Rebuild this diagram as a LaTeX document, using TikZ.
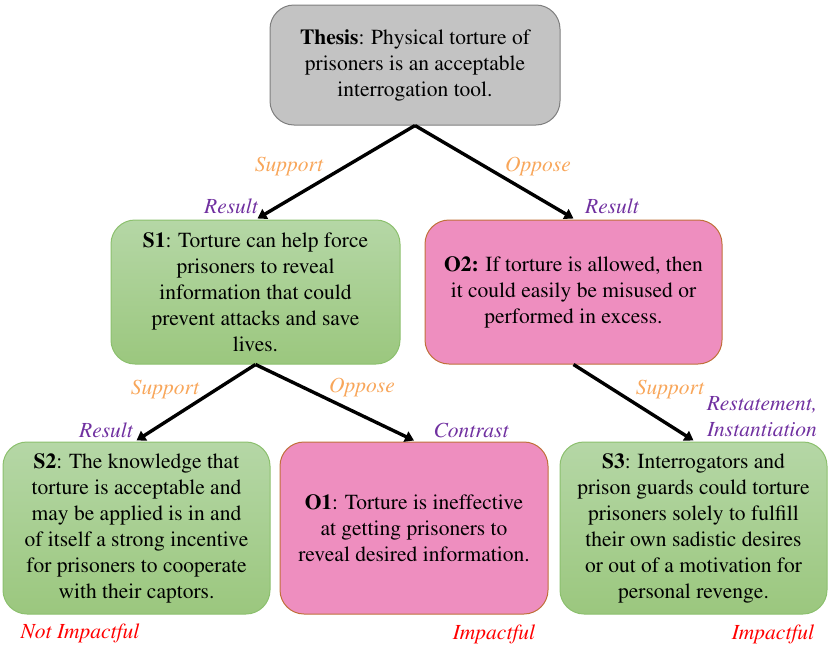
\documentclass[tikz,border=0pt]{standalone}
\usepackage[T1]{fontenc}
\renewcommand{\rmdefault}{ptm}
\usetikzlibrary{arrows.meta}
\definecolor{thfill}{HTML}{C3C3C3}
\definecolor{thdraw}{HTML}{7F7F7F}
\definecolor{gtop}{HTML}{B5D7A6}
\definecolor{gbot}{HTML}{9BC77E}
\definecolor{gdraw}{HTML}{8CC06E}
\definecolor{pfill}{HTML}{EE8EBF}
\definecolor{pdraw}{HTML}{C0703A}
\definecolor{relor}{HTML}{F8A65A}
\definecolor{relpu}{HTML}{7030A0}
\definecolor{impred}{HTML}{FF0000}
\tikzset{
  box/.style={rounded corners=24pt, line width=1pt, align=center, inner sep=0pt,
    font=\fontsize{21.5}{26}\selectfont},
  thesisbox/.style={box, fill=thfill, draw=thdraw},
  supbox/.style={box, top color=gtop, bottom color=gbot, draw=gdraw},
  oppbox/.style={box, fill=pfill, draw=pdraw},
  conn/.style={line width=3.4pt, -{Triangle[length=9pt,width=11pt]}},
  rel/.style={font=\fontsize{21.5}{25}\selectfont\itshape, text=relor, inner sep=0pt},
  dis/.style={font=\fontsize{21.5}{26}\selectfont\itshape, text=relpu, inner sep=0pt, align=center},
  imp/.style={font=\fontsize{21.5}{25}\selectfont\itshape, text=impred, inner sep=0pt},
}
\begin{document}
\begin{tikzpicture}[x=1pt,y=-1pt]
\useasboundingbox (0,0) rectangle (831,648);
\node[thesisbox, minimum width=290pt, minimum height=120pt] (T) at (415,65)
  {\textbf{Thesis}: Physical torture of\\prisoners is an acceptable\\interrogation tool.};
\node[supbox, minimum width=289pt, minimum height=144pt] (S1) at (255.5,292)
  {\textbf{S1}: Torture can help force\\prisoners to reveal\\information that could\\prevent attacks and save\\lives.};
\node[oppbox, minimum width=297pt, minimum height=144pt] (O2) at (573.5,292)
  {\textbf{O2:} If torture is allowed, then\\it could easily be misused or\\performed in excess.};
\node[supbox, minimum width=267pt, minimum height=172pt] (S2) at (136.5,528)
  {\textbf{S2}: The knowledge that\\torture is acceptable and\\may be applied is in and\\of itself a strong incentive\\for prisoners to cooperate\\with their captors.};
\node[oppbox, minimum width=268pt, minimum height=172pt] (O1) at (414,528)
  {\textbf{O1}: Torture is ineffective\\at getting prisoners to\\reveal desired information.};
\node[supbox, minimum width=267pt, minimum height=172pt] (S3) at (693.5,528)
  {\textbf{S3}: Interrogators and\\prison guards could torture\\prisoners solely to fulfill\\their own sadistic desires\\or out of a motivation for\\personal revenge.};
\draw[conn] (T.south) -- ([xshift=2pt,yshift=1pt]S1.north);
\draw[conn] (T.south) -- ([yshift=1pt]O2.north);
\draw[conn] (S1.south) -- ([yshift=1pt]S2.north);
\draw[conn] (S1.south) -- ([yshift=1pt]O1.north);
\draw[conn] (O2.south) -- ([yshift=1pt]S3.north);
\node[rel] (l1) at (289,166) {Support};
\node[dis] (d1) at (231,206) {Result};
\node[rel] (l2) at (538,166) {Oppose};
\node[dis] (d2) at (612,206) {Result};
\node[rel] (l3) at (165,389) {Support};
\node[dis] (d3) at (106,430) {Result};
\node[rel] (l4) at (362,387) {Oppose};
\node[dis] (d4) at (471,430) {Contrast};
\node[rel] (l5) at (670,389) {Support};
\node[dis] (d5) at (762,417) {Restatement,\\Instantiation};
\node[imp] (i1) at (80,633) {Not Impactful};
\node[imp] (i2) at (494,634) {Impactful};
\node[imp] (i3) at (773,634) {Impactful};
\end{tikzpicture}
\end{document}
